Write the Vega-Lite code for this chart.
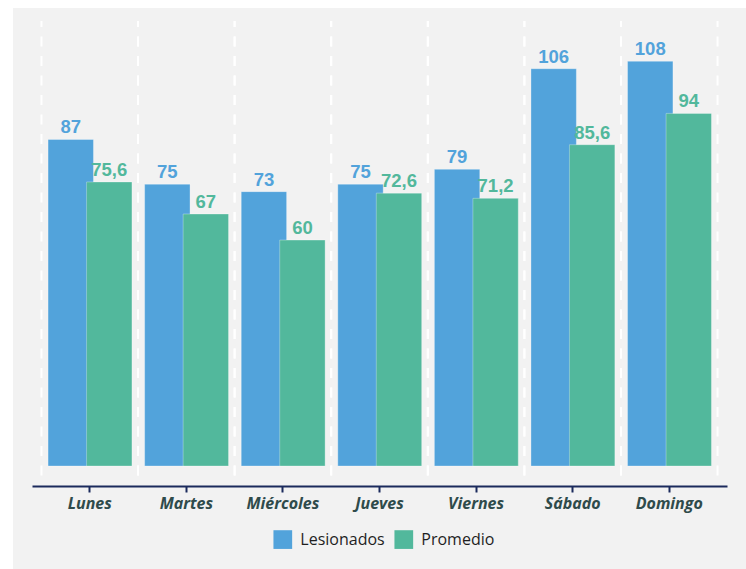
{
  "$schema": "https://vega.github.io/schema/vega-lite/v6.json",
  "width": 733,
  "height": 561,
  "padding": {"left": 13, "top": 8, "right": 0, "bottom": 0},
  "autosize": {"type": "none"},
  "background": "white",
  "data": {
    "values": [
      {"dia": "Lunes", "serie": "Lesionados", "valor": 87},
      {"dia": "Martes", "serie": "Lesionados", "valor": 75},
      {"dia": "Miércoles", "serie": "Lesionados", "valor": 73},
      {"dia": "Jueves", "serie": "Lesionados", "valor": 75},
      {"dia": "Viernes", "serie": "Lesionados", "valor": 79},
      {"dia": "Sábado", "serie": "Lesionados", "valor": 106},
      {"dia": "Domingo", "serie": "Lesionados", "valor": 108},
      {"dia": "Lunes", "serie": "Promedio", "valor": 75.6},
      {"dia": "Martes", "serie": "Promedio", "valor": 67},
      {"dia": "Miércoles", "serie": "Promedio", "valor": 60},
      {"dia": "Jueves", "serie": "Promedio", "valor": 72.6},
      {"dia": "Viernes", "serie": "Promedio", "valor": 71.2},
      {"dia": "Sábado", "serie": "Promedio", "valor": 85.6},
      {"dia": "Domingo", "serie": "Promedio", "valor": 94}
    ]
  },
  "encoding": {
    "x": {
      "field": "dia",
      "type": "nominal",
      "scale": {
        "domain": ["Lunes", "Martes", "Miércoles", "Jueves", "Viernes", "Sábado", "Domingo"],
        "range": [19, 714],
        "paddingInner": 0,
        "paddingOuter": 0.098
      },
      "axis": {
        "title": null,
        "orient": "bottom",
        "offset": -83,
        "labelAngle": 0,
        "domainColor": "#1b2a5c",
        "domainWidth": 2,
        "tickColor": "#1b2a5c",
        "tickWidth": 2,
        "tickSize": 6,
        "labelFont": "Open Sans",
        "labelFontStyle": "italic",
        "labelFontWeight": "bold",
        "labelFontSize": 16,
        "labelColor": "#2f4b4b",
        "labelPadding": 3,
        "grid": false
      }
    }
  },
  "layer": [
    {
      "transform": [{"filter": "datum.serie === 'Lesionados'"}],
      "mark": {"type": "rule", "stroke": "white", "strokeWidth": 2, "strokeDash": [10, 9.5], "strokeDashOffset": 4},
      "encoding": {
        "x": {"field": "dia", "type": "nominal", "bandPosition": 0},
        "y": {"datum": 118.8, "type": "quantitative", "axis": null},
        "y2": {"datum": -5.2}
      }
    },
    {
      "transform": [{"filter": "datum.serie === 'Lesionados'"}],
      "mark": {"type": "rule", "stroke": "white", "strokeWidth": 2, "strokeDash": [10, 9.5], "strokeDashOffset": 4},
      "encoding": {
        "x": {"field": "dia", "type": "nominal", "bandPosition": 1},
        "y": {"datum": 118.8, "type": "quantitative", "axis": null},
        "y2": {"datum": -5.2}
      }
    },
    {
      "transform": [{"filter": "datum.serie === 'Lesionados'"}],
      "mark": {"type": "bar", "width": {"band": 0.47}, "xOffset": -19, "stroke": "#ffffff", "strokeOpacity": 0.3, "strokeWidth": 1},
      "encoding": {
        "y": {"field": "valor", "type": "quantitative", "scale": {"domain": [-28.3, 122.3], "nice": false, "zero": false}, "axis": null},
        "y2": {"datum": -0.65},
        "color": {
          "field": "serie",
          "type": "nominal",
          "scale": {"domain": ["Lesionados", "Promedio"], "range": ["#52a3db", "#52b89c"]},
          "legend": {
            "title": null,
            "orient": "none",
            "legendX": 260.3,
            "legendY": 522,
            "direction": "horizontal",
            "symbolType": "square",
            "symbolSize": 350,
            "symbolStrokeWidth": 0,
            "labelFont": "Open Sans",
            "labelFontSize": 16,
            "labelColor": "#1f1f1f",
            "labelOffset": 8,
            "columnPadding": 9
          }
        }
      }
    },
    {
      "transform": [{"filter": "datum.serie === 'Promedio'"}],
      "mark": {"type": "bar", "width": {"band": 0.47}, "xOffset": 19.5, "stroke": "#ffffff", "strokeOpacity": 0.3, "strokeWidth": 1},
      "encoding": {
        "y": {"field": "valor", "type": "quantitative", "axis": null},
        "y2": {"datum": -0.65},
        "color": {"field": "serie", "type": "nominal"}
      }
    },
    {
      "transform": [{"filter": "datum.serie === 'Lesionados'"}],
      "mark": {"type": "text", "xOffset": -19, "dy": -6, "baseline": "alphabetic", "align": "center", "font": "Liberation Sans", "fontWeight": "bold", "fontSize": 18.5, "color": "#52a3db"},
      "encoding": {
        "y": {"field": "valor", "type": "quantitative", "axis": null},
        "text": {"field": "valor", "type": "quantitative", "format": ".1~f"}
      }
    },
    {
      "transform": [{"filter": "datum.serie === 'Promedio'"}],
      "mark": {"type": "text", "xOffset": 19.5, "dy": -6, "baseline": "alphabetic", "align": "center", "font": "Liberation Sans", "fontWeight": "bold", "fontSize": 18.5, "color": "#52b89c"},
      "encoding": {
        "y": {"field": "valor", "type": "quantitative", "axis": null},
        "text": {"field": "valor", "type": "quantitative", "format": ".1~f"}
      }
    }
  ],
  "config": {
    "view": {"fill": "#f2f2f2", "stroke": null},
    "axisY": {"disable": true},
    "locale": {
      "number": {"decimal": ",", "thousands": ".", "grouping": [3], "currency": ["", " €"]}
    }
  }
}
